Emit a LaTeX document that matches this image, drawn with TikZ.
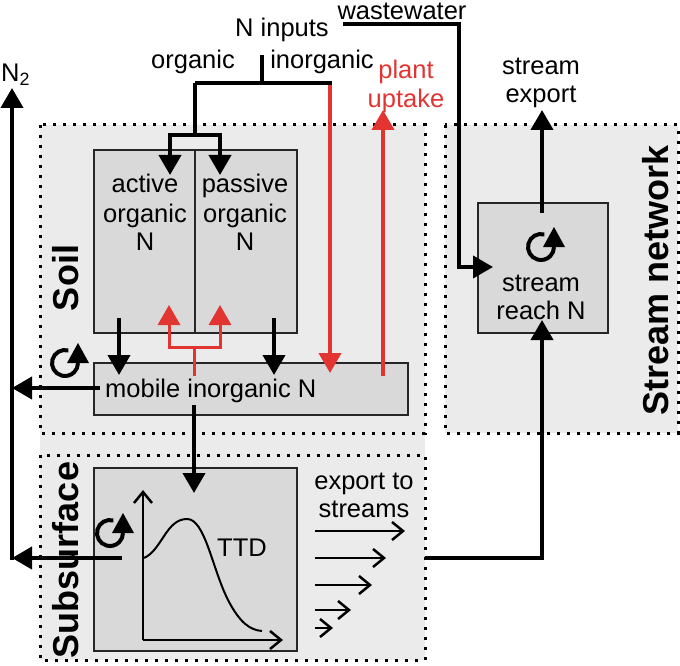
\documentclass[tikz,border=0pt]{standalone}
\usepackage{fontspec}
\setmainfont{Liberation Sans}
\usetikzlibrary{arrows.meta}
\definecolor{regiongray}{HTML}{EBEBEB}
\definecolor{boxgray}{HTML}{D9D9D9}
\definecolor{nred}{HTML}{E23431}
\begin{document}
\begin{tikzpicture}[x=1pt,y=-1pt,
  region/.style={fill=regiongray,draw=none},
  dotborder/.style={draw=black,line width=3pt,dash pattern=on 3pt off 7pt},
  pool/.style={draw=black!85,line width=2pt,fill=boxgray,inner sep=0pt},
  flow/.style={line width=4pt,-{Triangle[length=20pt,width=22pt]}},
  rflow/.style={flow,draw=nred},
  rthin/.style={line width=3pt,draw=nred,-{Triangle[length=20pt,width=22pt]}},
  plain/.style={line width=4pt},
  thinarr/.style={line width=2.5pt,-{Straight Barb[length=11pt,width=18pt]}},
  txt/.style={font=\fontsize{25.5}{29}\selectfont,inner sep=0pt,anchor=base},
  lab/.style={font=\bfseries\fontsize{36}{40}\selectfont,inner sep=0pt,rotate=90},
  cyc/.pic={
    \draw[line width=4pt] (75:13pt) arc[start angle=75,end angle=360,radius=13pt];
    \fill (2pt,0pt) -- (24pt,0pt) -- (13pt,20pt) -- cycle;
  }]
\useasboundingbox (0,0) rectangle (680,666);
% regions
\fill[region] (40,125) rectangle (425,660);
\fill[region] (445,125) rectangle (678,433);
\draw[dotborder] (40,125) rectangle (425,433);
\draw[dotborder] (40,455) rectangle (425,660);
\draw[dotborder] (445,125) rectangle (678,433);
\node[lab] (soil) at (66,278) {Soil};
\node[lab] (subsurf) at (66,560) {Subsurface};
\node[lab] (streamnet) at (656,280) {Stream network};
% pools
\node[pool,anchor=north west,minimum width=101pt,minimum height=183pt] (active) at (93,149) {};
\node[pool,anchor=north west,minimum width=102pt,minimum height=183pt] (passive) at (194,149) {};
\node[pool,anchor=north west,minimum width=314pt,minimum height=52pt] (mobile) at (93,362) {};
\node[pool,anchor=north west,minimum width=203pt,minimum height=183pt] (ttdbox) at (93,467) {};
\node[pool,anchor=north west,minimum width=130pt,minimum height=130pt] (reach) at (477,202) {};
% pool texts
\node[txt] (tact1) at (145,193) {active};
\node[txt] (tact2) at (145,222) {organic};
\node[txt] (tact3) at (145,250) {N};
\node[txt] (tpas1) at (245,193) {passive};
\node[txt] (tpas2) at (245,222) {organic};
\node[txt] (tpas3) at (245,250) {N};
\node[txt,anchor=base west] (tmob) at (105,397) {mobile inorganic N};
\node[txt] (treach1) at (541,291) {stream};
\node[txt] (treach2) at (541,319) {reach N};
\node[txt] (tttd) at (242,556) {TTD};
% top texts
\node[txt] (ninputs) at (282,37) {N inputs};
\node[txt] (torg) at (193,69) {organic};
\node[txt] (tinorg) at (322,69) {inorganic};
\node[txt] (tww) at (402,19.5) {wastewater};
\node[txt,text=nred] (tplant1) at (406,79) {plant};
\node[txt,text=nred] (tplant2) at (406,108) {uptake};
\node[txt] (texp1) at (541,75) {stream};
\node[txt] (texp2) at (541,103) {export};
\node[txt] (texs1) at (364,489) {export to};
\node[txt] (texs2) at (364,517) {streams};
\node[txt,anchor=base west] (tn2) at (1,82) {N\textsubscript{2}};
% cycle symbols
\pic (cycsoil) at (65,363) {cyc};
\pic (cycsub) at (110,533) {cyc};
\pic (cycreach) at (541,247) {cyc};
% coordinates
\coordinate (ntop) at (262,55);
\coordinate (split) at (262,83);
\coordinate (orgc) at (195,83);
\coordinate (inorgc) at (332,83);
\coordinate (redtop) at (330,85);
\coordinate (redtip) at (330,373);
\coordinate (obar) at (195,135);
\coordinate (tipact) at (170,175);
\coordinate (tippas) at (220,175);
\coordinate (d1s) at (119,318);
\coordinate (d1t) at (119,375);
\coordinate (d2s) at (274,318);
\coordinate (d2t) at (274,375);
\coordinate (rstem) at (194,376);
\coordinate (rbar) at (194,347);
\coordinate (rtA) at (169,305);
\coordinate (rtB) at (220,305);
\coordinate (upS) at (383,376);
\coordinate (upT) at (383,110);
\coordinate (leachS) at (194,405);
\coordinate (leachT) at (194,493);
\coordinate (mobL) at (100,388);
\coordinate (n2mob) at (12,388);
\coordinate (subL) at (122,558);
\coordinate (n2sub) at (12,558);
\coordinate (n2bot) at (12,560);
\coordinate (n2tip) at (12,88);
\coordinate (wwS) at (343,24);
\coordinate (wwC) at (459,24);
\coordinate (wwT) at (493,267);
\coordinate (expS) at (542,213);
\coordinate (expT) at (542,110);
\coordinate (subout) at (425,558);
\coordinate (reachT) at (542,320);
\coordinate (ax0) at (143,640);
\coordinate (axY) at (143,490);
\coordinate (axX) at (283,640);
% N inputs
\draw[rflow] (redtop) -- (redtip);
\draw[plain] (ntop) -- (split);
\draw[plain] (orgc) -- (inorgc);
\draw[flow] (orgc) -- (obar) -| (tipact);
\draw[flow] (obar) -| (tippas);
% soil fluxes
\draw[flow] (d1s) -- (d1t);
\draw[flow] (d2s) -- (d2t);
\draw[rthin] (rstem) -- (rbar) -| (rtA);
\draw[rthin] (rbar) -| (rtB);
\draw[rflow] (upS) -- (upT);
\draw[flow] (leachS) -- (leachT);
% N2
\draw[flow] (mobL) -- (n2mob);
\draw[flow] (subL) -- (n2sub);
\draw[flow] (n2bot) -- (n2tip);
% stream
\draw[flow] (wwS) -- (wwC) |- (wwT);
\draw[flow] (expS) -- (expT);
\draw[flow] (subout) -| (reachT);
% TTD
\draw[thinarr] (ax0) -- (axY);
\draw[thinarr] (ax0) -- (axX);
\draw[line width=2pt] (144,558) .. controls (162,550) and (166,519) .. (187,519)
  .. controls (205,519) and (212,568) .. (228,600)
  .. controls (240,623) and (250,630) .. (262,631);
% export to streams arrows
\coordinate (e1s) at (315,531); \coordinate (e1t) at (405,531);
\coordinate (e2s) at (315,558); \coordinate (e2t) at (386,558);
\coordinate (e3s) at (315,585); \coordinate (e3t) at (372,585);
\coordinate (e4s) at (315,610); \coordinate (e4t) at (351,610);
\coordinate (e5s) at (315,628); \coordinate (e5t) at (333,628);
\draw[thinarr] (e1s) -- (e1t);
\draw[thinarr] (e2s) -- (e2t);
\draw[thinarr] (e3s) -- (e3t);
\draw[thinarr] (e4s) -- (e4t);
\draw[thinarr] (e5s) -- (e5t);
\end{tikzpicture}
\end{document}
